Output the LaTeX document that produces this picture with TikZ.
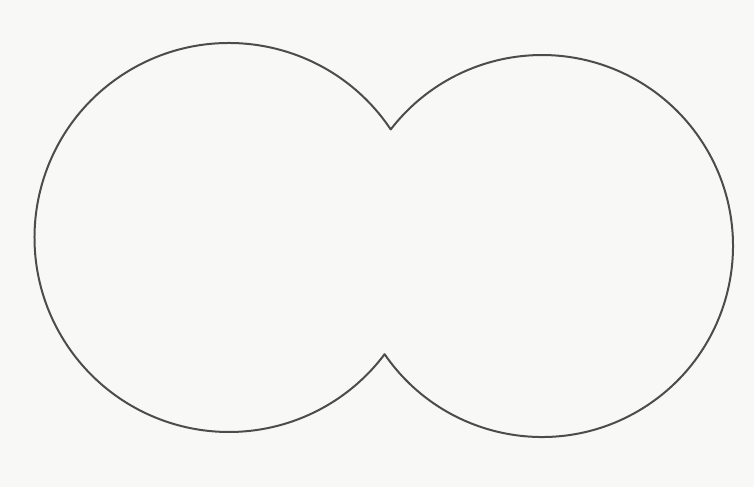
\documentclass[tikz,border=0pt]{standalone}
\definecolor{paper}{HTML}{F8F9F7}
\definecolor{pencil}{HTML}{4C4C4C}
\tikzset{outline/.style={draw=pencil,line width=2pt,line join=round}}
\begin{document}
\begin{tikzpicture}[x=1pt,y=1pt]
\fill[paper] (0,0) rectangle (754,487);
\useasboundingbox (0,0) rectangle (754,487);
\coordinate (top) at (390.70,357.58);
\draw[outline] (top) arc[start angle=33.76,end angle=323.13,radius=194.5]
  arc[start angle=214.50,end angle=502.39,radius=191] -- cycle;
\end{tikzpicture}
\end{document}
